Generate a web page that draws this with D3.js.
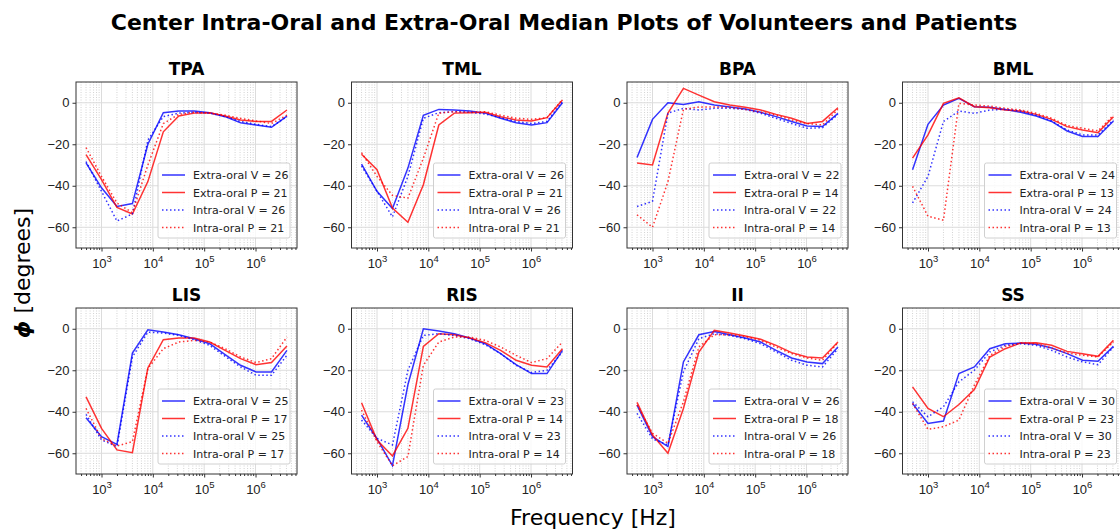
<!DOCTYPE html>
<html>
<head>
<meta charset="utf-8">
<script src="https://cdn.jsdelivr.net/npm/d3@7"></script>
<style>
  body { margin: 0; background: #fff; }
  svg { font-family: "DejaVu Sans", sans-serif; }
</style>
</head>
<body>
<div id="chart"></div>
<script>
// Measurement frequencies (Hz)
const freqs = [500, 1000, 2000, 4000, 8000, 16000, 32000, 64000, 128000, 256000, 512000, 1024000, 2048000, 4096000];

const panelNames = ['TPA', 'TML', 'BPA', 'BML', 'LIS', 'RIS', 'II', 'SS'];
const volunteerCounts = [26, 26, 22, 24, 25, 23, 26, 30];
const patientCounts = [21, 21, 14, 13, 17, 14, 18, 23];
const yTicks = [0, -20, -40, -60];
const xTicks = [1e3, 1e4, 1e5, 1e6];

// Median phase per panel: [extra-oral V, extra-oral P, intra-oral V, intra-oral P]
const tpa = [
  [-29, -41, -50, -48.6, -20, -4.8, -4, -4, -4.8, -6.7, -9.6, -10.7, -11.8, -6.4],
  [-25, -37, -50.4, -53.6, -38, -14, -6.4, -5, -4.8, -6.4, -8.3, -9, -9, -3.5],
  [-28.3, -42.7, -57, -53.6, -18, -6.7, -5, -4.6, -5, -6.7, -9, -10.4, -11.5, -6.7],
  [-21.6, -35.5, -48.3, -53, -30, -10, -5.6, -4.6, -5, -6, -7.5, -8.8, -10, -6]
];
const tml = [
  [-29.6, -42.7, -51, -31.5, -6, -3.2, -3.5, -4, -5, -7.5, -9.6, -10.7, -9.6, 0],
  [-24.8, -32.3, -50.7, -57.6, -39.5, -10.7, -5, -4.8, -4.6, -6.7, -8.3, -8.8, -7.2, 1.3],
  [-30.4, -42.7, -55, -35.5, -7.5, -4.8, -4.3, -4.6, -5.4, -7.2, -9, -10, -9, 0.5],
  [-24, -35.5, -44.6, -46, -26.7, -5, -4.3, -4.6, -4.3, -6, -7.5, -8, -7.2, 1.6]
];
const bpa = [
  [-26.4, -8, 0, -0.8, 0.5, -1.1, -2, -3, -4.6, -6.7, -9, -11.2, -11.5, -5.1],
  [-29, -30, -5, 6.9, 3.7, 0.5, -1.1, -2.2, -3.5, -5.6, -7.5, -10, -9, -2.4],
  [-50, -47.5, -5, -2.7, -3.5, -2.7, -2.7, -3.2, -5.1, -7.5, -10, -12.3, -12, -5.6],
  [-54, -60, -38, -3.2, -2, -2, -2.2, -3.2, -4.6, -6, -8.3, -10, -10.7, -3.2]
];
const bml = [
  [-32.3, -10.4, -1.1, 2.1, -1.9, -2.2, -3.2, -4.6, -6.4, -9, -13.6, -16.3, -16.3, -8.8],
  [-26.7, -15.5, -0.3, 2.4, -1.9, -2.4, -3.5, -4, -5.6, -8, -11.5, -13.1, -14.4, -6.7],
  [-48.3, -35.5, -9, -4, -5.1, -3.5, -3.2, -4, -6, -8.8, -13.1, -15.5, -15.5, -8.3],
  [-40.3, -54.7, -56.6, -0.3, -1.1, -1.6, -2.7, -3.5, -5.1, -7.5, -11, -12.3, -13.6, -6]
];
const lis = [
  [-42.9, -52, -55.7, -11.7, -0.5, -1.6, -2.9, -4.8, -7.2, -12.5, -17.6, -20.8, -20.8, -10.4],
  [-32.8, -48, -58.4, -59.7, -18.9, -5.3, -4.5, -4.5, -6.4, -10.4, -14.4, -17.3, -16.3, -8.3],
  [-41.3, -53.6, -56.8, -13.6, -1.6, -2.1, -3.2, -5.3, -8, -13.3, -18.4, -22.4, -22.4, -12.8],
  [-38.4, -53, -56.5, -54.4, -19.2, -9.6, -6.4, -5.6, -6.4, -9.6, -13.6, -16.3, -14.4, -4]
];
const ris = [
  [-41.6, -53, -66, -27, 0, -1.1, -2.4, -4.5, -7.2, -12, -17.3, -21.6, -21.6, -10.4],
  [-35.7, -53.6, -61.3, -48, -8.5, -2.4, -2.9, -4.5, -6.7, -10.4, -15.2, -17.6, -18.4, -9.6],
  [-44, -52.8, -56, -20, -3.2, -2.4, -3.2, -4.8, -7.7, -12, -17.6, -21.1, -20, -11.2],
  [-39.2, -54.4, -66, -61.6, -17.6, -6.4, -4, -4, -5.6, -8.8, -12.8, -16.3, -14.4, -6.4]
];
const ii = [
  [-36.8, -52, -56.8, -16, -2.9, -1.3, -2.9, -4.5, -6.4, -10.4, -14.1, -16, -16.8, -8.8],
  [-35.5, -51.2, -60, -38.4, -11.2, -0.8, -2.1, -3.5, -5.1, -8, -11.5, -13.6, -14.1, -6.4],
  [-40.8, -53.1, -56, -20.8, -4.8, -2.4, -3.2, -4.8, -7.2, -11.2, -15.2, -17.6, -18.4, -9.6],
  [-36.8, -50.4, -55.2, -35.2, -8.8, -2.9, -2.9, -3.7, -5.6, -8.8, -12, -14.1, -15.2, -6.7]
];
const ss = [
  [-36, -45.6, -44.5, -21.6, -18.4, -9.6, -7.2, -6.9, -7.5, -9.3, -12, -15.2, -15.7, -8.5],
  [-28, -38.4, -42.4, -36.5, -29.3, -13.6, -9.6, -6.9, -6.7, -8, -10.9, -12, -13.3, -5.6],
  [-35.2, -42.4, -37.6, -25.6, -20, -11.2, -8, -7.2, -8, -10.4, -13.6, -16, -17.3, -8.8],
  [-36, -48.5, -47.2, -44, -27.2, -12.8, -8.5, -6.9, -7.2, -9.3, -11.7, -12.8, -13.6, -6.4]
];
const panelData = [tpa, tml, bpa, bml, lis, ris, ii, ss];

const seriesStyles = [
  { color: '#0000ff', dash: null, label: (v, p) => `Extra-oral V = ${v}` },
  { color: '#ff0000', dash: null, label: (v, p) => `Extra-oral P = ${p}` },
  { color: '#0000ff', dash: '1.5,2.5', label: (v, p) => `Intra-oral V = ${v}` },
  { color: '#ff0000', dash: '1.5,2.5', label: (v, p) => `Intra-oral P = ${p}` }
];

const W = 1120, H = 532;
const panelW = 221, panelH = 166;
const colLeft = [76, 351.5, 627, 902.5];
const rowTop = [82, 308];

const svg = d3.select('#chart').append('svg')
  .attr('width', W)
  .attr('height', H);

// Figure title and shared axis labels
svg.append('text')
  .attr('x', 564).attr('y', 30)
  .attr('text-anchor', 'middle')
  .style('font-size', '22px')
  .style('font-weight', 'bold')
  .text('Center Intra-Oral and Extra-Oral Median Plots of Volunteers and Patients');

svg.append('text')
  .attr('x', 593).attr('y', 525)
  .attr('text-anchor', 'middle')
  .style('font-size', '22px')
  .text('Frequency [Hz]');

const yLab = svg.append('text')
  .attr('transform', 'translate(30,273) rotate(-90)')
  .attr('text-anchor', 'middle')
  .style('font-size', '22px');
yLab.append('tspan').style('font-style', 'italic').style('font-weight', 'bold').text('ϕ');
yLab.append('tspan').text(' [degrees]');

// Log x-range padded by 5% of the span, like the default autoscale margins
const lx = d3.extent(freqs).map(Math.log10);
const pad = (lx[1] - lx[0]) * 0.05;
const xDomain = [Math.pow(10, lx[0] - pad), Math.pow(10, lx[1] + pad)];

const minorTicks = [];
for (let e = 2; e <= 6; e++) {
  for (let m = 2; m <= 9; m++) {
    const v = m * Math.pow(10, e);
    if (v >= xDomain[0] && v <= xDomain[1]) minorTicks.push(v);
  }
}

panelNames.forEach((name, i) => {
  const col = i % 4, row = Math.floor(i / 4);
  const g = svg.append('g')
    .attr('transform', `translate(${colLeft[col]},${rowTop[row]})`);

  const x = d3.scaleLog().domain(xDomain).range([0, panelW]);
  const y = d3.scaleLinear().domain([-70, 10]).range([panelH, 0]);

  // grid: minor dotted verticals, major solid lines
  g.append('g').selectAll('line').data(minorTicks).join('line')
    .attr('x1', d => x(d)).attr('x2', d => x(d))
    .attr('y1', 0).attr('y2', panelH)
    .attr('stroke', '#c8c8c8').attr('stroke-width', 0.8)
    .attr('stroke-dasharray', '1,1.5');
  g.append('g').selectAll('line').data(xTicks).join('line')
    .attr('x1', d => x(d)).attr('x2', d => x(d))
    .attr('y1', 0).attr('y2', panelH)
    .attr('stroke', '#dcdcdc').attr('stroke-width', 1);
  g.append('g').selectAll('line').data(yTicks).join('line')
    .attr('x1', 0).attr('x2', panelW)
    .attr('y1', d => y(d)).attr('y2', d => y(d))
    .attr('stroke', '#dcdcdc').attr('stroke-width', 1);

  // axes
  const xAxis = g.append('g')
    .attr('transform', `translate(0,${panelH})`)
    .call(d3.axisBottom(x).tickValues(xTicks).tickSize(3.5).tickPadding(3).tickFormat(''));
  g.append('g')
    .attr('transform', `translate(0,${panelH})`)
    .call(d3.axisBottom(x).tickValues(minorTicks).tickSize(2).tickFormat(''))
    .call(a => a.select('.domain').remove());
  const yAxis = g.append('g')
    .call(d3.axisLeft(y).tickValues(yTicks).tickSize(3.5).tickPadding(3)
      .tickFormat(d => d < 0 ? '\u2212' + Math.abs(d) : d));
  g.selectAll('.domain').attr('stroke', 'none');
  g.selectAll('.tick line').attr('stroke', '#333');
  yAxis.selectAll('text').style('font-size', '13px').attr('fill', '#222').attr('font-family', null);

  // 10^n labels on the x axis
  xAxis.selectAll('.tick').each(function(d) {
    const t = d3.select(this).append('text')
      .attr('y', 20).attr('fill', '#222')
      .attr('text-anchor', 'middle')
      .style('font-size', '13px');
    t.append('tspan').text('10');
    t.append('tspan').attr('dy', -6).style('font-size', '9.5px').text(Math.round(Math.log10(d)));
  });

  g.append('rect')
    .attr('width', panelW).attr('height', panelH)
    .attr('fill', 'none').attr('stroke', '#333').attr('stroke-width', 1);

  g.append('text')
    .attr('x', panelW / 2).attr('y', -7)
    .attr('text-anchor', 'middle')
    .style('font-size', '17px')
    .style('font-weight', 'bold')
    .text(name);

  const clipId = `clip-${i}`;
  g.append('clipPath').attr('id', clipId)
    .append('rect').attr('width', panelW).attr('height', panelH);

  const line = d3.line()
    .x((d, k) => x(freqs[k]))
    .y(d => y(d));

  const lines = g.append('g').attr('clip-path', `url(#${clipId})`);
  panelData[i].forEach((vals, s) => {
    lines.append('path')
      .datum(vals)
      .attr('fill', 'none')
      .attr('stroke', seriesStyles[s].color)
      .attr('stroke-opacity', 0.8)
      .attr('stroke-width', 1.5)
      .attr('stroke-dasharray', seriesStyles[s].dash)
      .attr('d', line);
  });

  // legend, lower right
  const lgW = 132, lgH = 75;
  const legend = g.append('g')
    .attr('transform', `translate(${panelW - 7 - lgW},${panelH - 10 - lgH})`);
  legend.append('rect')
    .attr('width', lgW).attr('height', lgH).attr('rx', 2)
    .attr('fill', '#fff').attr('fill-opacity', 0.8)
    .attr('stroke', '#d0d0d0');
  seriesStyles.forEach((st, s) => {
    const ly = 12 + s * 17.5;
    legend.append('line')
      .attr('x1', 4).attr('x2', 27).attr('y1', ly).attr('y2', ly)
      .attr('stroke', st.color).attr('stroke-opacity', 0.8)
      .attr('stroke-width', 1.5)
      .attr('stroke-dasharray', st.dash);
    legend.append('text')
      .attr('x', 35).attr('y', ly + 4)
      .style('font-size', '11px')
      .attr('fill', '#222')
      .text(st.label(volunteerCounts[i], patientCounts[i]));
  });
});
</script>
</body>
</html>
